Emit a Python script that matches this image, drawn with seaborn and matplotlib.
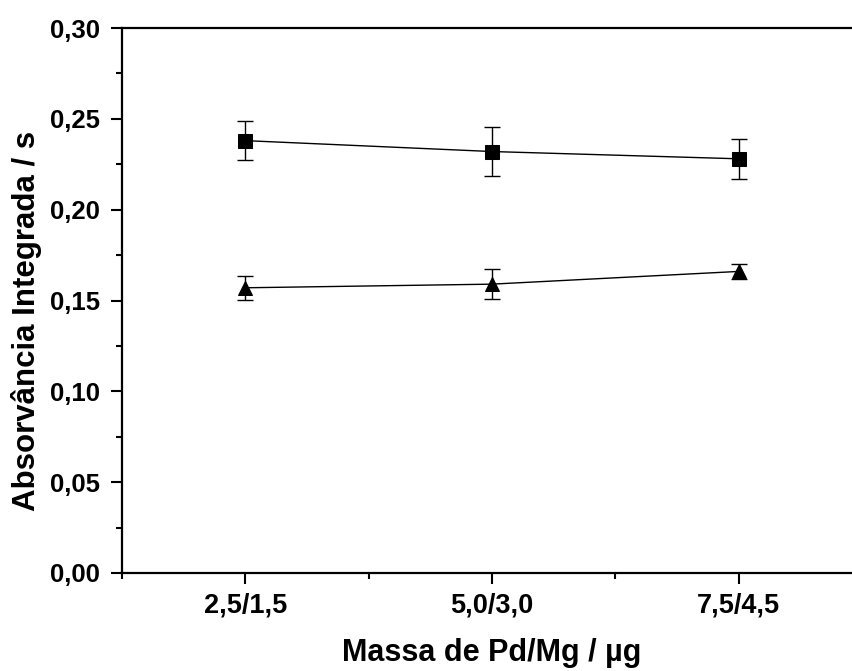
import matplotlib
matplotlib.use("Agg")
import matplotlib.pyplot as plt
from matplotlib.ticker import MultipleLocator, FixedLocator
import seaborn as sns
import pandas as pd

categories = ["2,5/1,5", "5,0/3,0", "7,5/4,5"]
square_vals = [0.238, 0.232, 0.228]
square_err = [0.0107, 0.0134, 0.011]
triangle_vals = [0.157, 0.159, 0.166]
triangle_err = [0.0067, 0.0084, 0.004]
y_ticks = [0.00, 0.05, 0.10, 0.15, 0.20, 0.25, 0.30]
y_labels = ["0,00", "0,05", "0,10", "0,15", "0,20", "0,25", "0,30"]

sns.set_style("ticks")
plt.rcParams["font.family"] = ["Liberation Sans", "DejaVu Sans"]
plt.rcParams["font.weight"] = "bold"
plt.rcParams["text.color"] = "black"
plt.rcParams["axes.labelcolor"] = "black"
plt.rcParams["xtick.color"] = "black"
plt.rcParams["ytick.color"] = "black"
plt.rcParams["axes.edgecolor"] = "black"

fig = plt.figure(figsize=(8.52, 6.71), dpi=100)
ax = fig.add_axes([122/852, 98/671, 740/852, 545/671])

xpos = [1, 2, 3]
df = pd.DataFrame({
    "x": xpos * 2,
    "y": square_vals + triangle_vals,
    "serie": ["sq"] * 3 + ["tri"] * 3,
})
sns.lineplot(data=df, x="x", y="y", style="serie", markers={"sq": "s", "tri": "^"},
             dashes=False, color="black", linewidth=1, markersize=10,
             markeredgecolor="black", legend=False, ax=ax)
ax.errorbar(xpos, square_vals, yerr=square_err, fmt="none", ecolor="black",
            elinewidth=1, capsize=6, capthick=1)
ax.errorbar(xpos, triangle_vals, yerr=triangle_err, fmt="none", ecolor="black",
            elinewidth=1, capsize=6, capthick=1)

ax.set_xlim(0.5, 3.5)
ax.set_ylim(0, 0.30)
ax.xaxis.set_major_locator(FixedLocator(xpos))
ax.set_xticklabels(categories)
ax.xaxis.set_minor_locator(FixedLocator([0.5, 1.5, 2.5, 3.5]))
ax.set_yticks(y_ticks)
ax.set_yticklabels(y_labels)
ax.yaxis.set_minor_locator(MultipleLocator(0.025))

for s in ["left", "bottom", "top"]:
    ax.spines[s].set_linewidth(1.6)
ax.spines["right"].set_visible(False)
ax.tick_params(which="major", direction="out", length=8, width=1.5)
ax.tick_params(which="minor", direction="out", length=4.5, width=1.5)
ax.tick_params(axis="x", which="major", labelsize=19.5, pad=6)
ax.tick_params(axis="y", which="major", labelsize=18.5, pad=8)
ax.tick_params(top=False, right=False, which="both")
for lab in ax.get_xticklabels() + ax.get_yticklabels():
    lab.set_fontweight("bold")

ax.set_xlabel("Massa de Pd/Mg / µg", fontsize=22, fontweight="bold", labelpad=14)
ax.set_ylabel("Absorvância Integrada / s", fontsize=22.5, fontweight="bold")
ax.yaxis.set_label_coords(-0.108, 0.462)

fig.savefig("out.png", dpi=100)
